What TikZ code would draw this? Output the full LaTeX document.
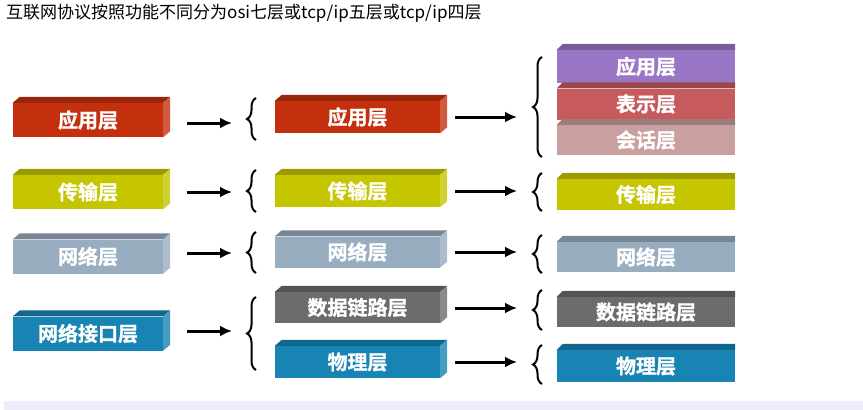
\documentclass[tikz,border=0pt]{standalone}
\usepackage{fontspec}
\newfontfamily\cjk{Noto Sans CJK SC}[BoldFont={* Bold}, BoldFeatures={FakeBold=1.2}]
\usepackage{tikz}
\usetikzlibrary{arrows.meta, decorations.pathreplacing, calc}

\definecolor{appred}{HTML}{C4300E}
\definecolor{transyellow}{HTML}{C6C600}
\definecolor{netgrey}{HTML}{98ADBF}
\definecolor{linkgrey}{HTML}{6C6C6C}
\definecolor{physblue}{HTML}{1784B3}
\definecolor{apppurple}{HTML}{9A77C6}
\definecolor{presred}{HTML}{C65A5C}
\definecolor{sesspink}{HTML}{C9A09F}
\definecolor{bandlav}{HTML}{ECECFB}

\tikzset{
  layer/.style={fill=#1, text=white, font=\cjk\bfseries\fontsize{20}{20}\selectfont,
    minimum width=150pt, minimum height=34pt, inner sep=0pt},
  arr/.style={-{Latex[length=12pt,width=11pt]}, line width=3pt},
  brc/.style={decorate, decoration={brace, amplitude=9pt}, line width=2pt}
}

\begin{document}
\begin{tikzpicture}[x=1pt, y=-1pt]
\useasboundingbox (0,0) rectangle (863,410);

% Title
\node[anchor=west, inner sep=0pt, font=\cjk\fontsize{17}{20}\selectfont] (title) at (6,13.5)
  {互联网协议按照功能不同分为osi七层或tcp/ip五层或tcp/ip四层};

% TCP/IP four layers
\node[layer=appred] (l1) at (88,120) {应用层};
\node[layer=transyellow] (l2) at (88,192) {传输层};
\node[layer=netgrey] (l3) at (88,256.5) {网络层};
\node[layer=physblue] (l4) at (88,333.5) {网络接口层};

% TCP/IP five layers
\node[layer=appred, minimum width=165pt, minimum height=32pt] (m1) at (357.5,117) {应用层};
\node[layer=transyellow, minimum width=165pt, minimum height=32pt] (m2) at (357.5,191) {传输层};
\node[layer=netgrey, minimum width=165pt, minimum height=31pt] (m3) at (357.5,252) {网络层};
\node[layer=linkgrey, minimum width=165pt, minimum height=31pt] (m4) at (357.5,307.5) {数据链路层};
\node[layer=physblue, minimum width=165pt, minimum height=32pt] (m5) at (357.5,362) {物理层};

% OSI seven layers
\node[layer=apppurple, minimum width=178pt, minimum height=33pt] (r1) at (646,66.5) {应用层};
\node[layer=presred, minimum width=178pt, minimum height=31pt] (r2) at (646,104) {表示层};
\node[layer=sesspink, minimum width=178pt, minimum height=30pt] (r3) at (646,140) {会话层};
\node[layer=transyellow, minimum width=178pt, minimum height=31pt] (r4) at (646,194.5) {传输层};
\node[layer=netgrey, minimum width=178pt, minimum height=30pt] (r5) at (646,257) {网络层};
\node[layer=linkgrey, minimum width=178pt, minimum height=30pt] (r6) at (646,312) {数据链路层};
\node[layer=physblue, minimum width=178pt, minimum height=32pt] (r7) at (646,366) {物理层};

% 3d faces
\foreach \n/\c in {l1/appred, l2/transyellow, l3/netgrey, l4/physblue,
    m1/appred, m2/transyellow, m3/netgrey, m4/linkgrey, m5/physblue}{
  \fill[\c!78!black] (\n.north west) -- ++(7pt,6pt) -- ($(\n.north east)+(7pt,6pt)$) -- (\n.north east) -- cycle;
  \fill[\c!80!white] (\n.north east) -- ++(7pt,6pt) -- ($(\n.south east)+(7pt,6pt)$) -- (\n.south east) -- cycle;
}
\foreach \n/\c in {r1/apppurple, r2/presred, r3/sesspink, r4/transyellow,
    r5/netgrey, r6/linkgrey, r7/physblue}{
  \fill[\c!78!black] (\n.north west) -- ++(6pt,6pt) -- ($(\n.north east)+(0pt,6pt)$) -- (\n.north east) -- cycle;
}

% Arrows four -> five
\coordinate (la1) at (232,123);
\coordinate (la2) at (232,192);
\coordinate (la3) at (232,253);
\coordinate (la4) at (232,331);
\draw[arr, shorten <=24pt] (l1.east |- la1) -- (la1);
\draw[arr, shorten <=24pt] (l2.east |- la2) -- (la2);
\draw[arr, shorten <=24pt] (l3.east |- la3) -- (la3);
\draw[arr, shorten <=24pt] (l4.east |- la4) -- (la4);

% Arrows five -> seven
\coordinate (ma1) at (517,117);
\coordinate (ma2) at (517,191);
\coordinate (ma3) at (517,252);
\coordinate (ma4) at (517,308);
\coordinate (ma5) at (517,362);
\draw[arr, shorten <=15pt] (m1.east |- ma1) -- (ma1);
\draw[arr, shorten <=15pt] (m2.east |- ma2) -- (ma2);
\draw[arr, shorten <=15pt] (m3.east |- ma3) -- (ma3);
\draw[arr, shorten <=15pt] (m4.east |- ma4) -- (ma4);
\draw[arr, shorten <=15pt] (m5.east |- ma5) -- (ma5);

% Braces
\draw[brc] (256,140) -- (256,98);
\draw[brc] (256,212) -- (256,170);
\draw[brc] (256,273) -- (256,232);
\draw[brc] (256,370) -- (256,297);
\draw[brc] (542,157) -- (542,57);
\draw[brc] (542,211) -- (542,173);
\draw[brc] (542,273) -- (542,235);
\draw[brc] (542,330) -- (542,290);
\draw[brc] (542,384) -- (542,345);

% bottom band
\fill[bandlav] (4,401) rectangle (863,410);
\end{tikzpicture}
\end{document}
